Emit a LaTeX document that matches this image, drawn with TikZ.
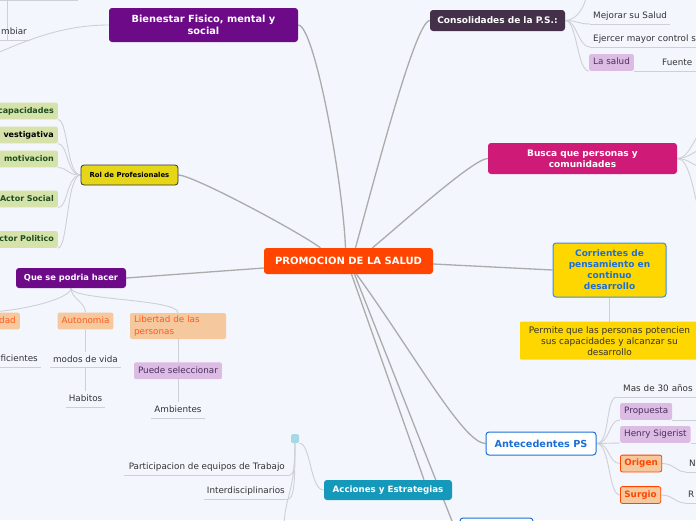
\documentclass[tikz,border=0pt]{standalone}
\usepackage{fontspec}
\setmainfont{DejaVu Sans}
\usetikzlibrary{positioning,backgrounds}

\definecolor{bgc}{HTML}{F3F6FD}
\definecolor{rootc}{HTML}{FF4500}
\definecolor{purp}{HTML}{6C0A88}
\definecolor{plum}{HTML}{45304A}
\definecolor{magen}{HTML}{D01A78}
\definecolor{goldc}{HTML}{FFD700}
\definecolor{skyb}{HTML}{3A8EE0}
\definecolor{blut}{HTML}{1D6FD8}
\definecolor{tealc}{HTML}{1599BA}
\definecolor{tealsq}{HTML}{A6D9E6}
\definecolor{lemon}{HTML}{E5D718}
\definecolor{sage}{HTML}{D5E3AA}
\definecolor{forest}{HTML}{1F4D1F}
\definecolor{peach}{HTML}{F6C89E}
\definecolor{tang}{HTML}{FF5A1E}
\definecolor{lilac}{HTML}{DDBCE4}
\definecolor{grape}{HTML}{4B2C5E}
\definecolor{inkc}{HTML}{333333}
\definecolor{trunkc}{HTML}{ABABAB}
\definecolor{twigc}{HTML}{CFD0D6}

\newcommand{\fsz}[2]{\fontsize{#1}{#2}\selectfont}

\begin{document}
\begin{tikzpicture}[
  x=1pt, y=1pt,
  font=\fsz{8.8}{11},
  box/.style={rounded corners=3pt, align=center, inner sep=2pt},
  hub/.style={box, text=white, font=\bfseries\fsz{9}{11}},
  rootbox/.style={hub, fill=rootc, minimum width=169pt, minimum height=26pt, font=\bfseries\fsz{10}{12}},
  tag/.style={rounded corners=2pt, inner xsep=4pt, inner ysep=4pt, text height=6.8pt, text depth=2pt},
  lilactag/.style={tag, fill=lilac, text=grape},
  peachtag/.style={tag, fill=peach, text=tang},
  sagetag/.style={tag, fill=sage, text=forest, font=\bfseries\fsz{8}{10}, text width=70pt, align=right},
  txt/.style={text=inkc, inner xsep=3pt, inner ysep=3.5pt, text height=6.8pt, text depth=2pt, uline},
  uline/.style={append after command={(\tikzlastnode.south west) edge[twig] (\tikzlastnode.south east)}},
  trunk/.style={draw=trunkc, line width=1.3pt},
  twig/.style={draw=twigc, line width=0.9pt}
]

\useasboundingbox (0,0) rectangle (696,-520);
\begin{scope}[on background layer]
  \fill[bgc] (0,0) rectangle (696,-520);
\end{scope}

% centro
\node[rootbox] (promo) at (348.5,-261) {PROMOCION DE LA SALUD};

% ramas principales
\node[hub, fill=purp, minimum width=189pt, minimum height=34pt, font=\bfseries\fsz{9.8}{12}] (bien) at (203.5,-25) {Bienestar Fisico, mental y\\social};
\node[hub, fill=plum, minimum width=135pt, minimum height=21pt] (cons) at (497.5,-20.5) {Consolidades de la P.S.:};
\node[hub, fill=magen, minimum width=189pt, minimum height=31pt] (busca) at (582.5,-158.5) {Busca que personas y\\comunidades};
\node[hub, fill=goldc, draw=skyb, line width=1pt, text=blut, minimum width=113pt, minimum height=54pt] (corr) at (609.5,-270) {Corrientes de\\pensamiento en\\continuo\\desarrollo};
\node[box, fill=goldc, text=inkc, rounded corners=1pt, minimum width=179pt, minimum height=38pt, font=\fsz{9}{11}, below=24pt of corr] (permite) {Permite que las personas potencien\\sus capacidades y alcanzar su\\desarrollo};
\node[hub, fill=white, draw=blut, line width=1pt, text=blut, minimum width=110pt, minimum height=23pt, font=\bfseries\fsz{9.7}{12}] (ante) at (541,-443.5) {Antecedentes PS};
\node[hub, fill=tealc, minimum width=128pt, minimum height=20pt, font=\bfseries\fsz{8.7}{11}] (acc) at (388,-490) {Acciones y Estrategias};
\node[hub, fill=white, draw=blut, line width=1pt, minimum width=73pt, minimum height=44pt] (abajo) at (496.5,-540) {};
\node[hub, fill=purp, minimum width=110pt, minimum height=20pt, font=\bfseries\fsz{8.3}{10}] (que) at (71,-278) {Que se podria hacer};
\node[box, fill=lemon, draw=black!80, line width=0.8pt, minimum width=97pt, minimum height=20pt, font=\bfseries\fsz{6.9}{9}] (rol) at (129.5,-175) {Rol de Profesionales};
\node[box, fill=tealsq, rounded corners=1.5pt, minimum width=8pt, minimum height=9pt, inner sep=0pt] (cuadro) at (295,-438.5) {};

% Bienestar
\node[txt, anchor=south east, text width=40pt, align=right] (mbiar) at (30,-40) {mbiar};
\coordinate (bienizq) at (-8,-55);
\coordinate (mbarriba) at (7,4);
\coordinate (tlA) at (-6,-0.6);
\coordinate (tlB) at (78,-0.6);

% Consolidades
\node[txt, anchor=south west] (mejorar) at (590,-24) {Mejorar su Salud};
\node[txt, anchor=south west, text width=110pt, align=left] (ejercer) at (590,-47) {Ejercer mayor control s};
\node[lilactag, anchor=south west] (lasalud) at (589,-71) {La salud};
\node[txt, anchor=south west, text width=40pt, align=left] (fuente) at (659,-71) {Fuente};
\coordinate (consarriba) at (587,6);

% Busca
\coordinate (buscaA) at (702,-131);
\coordinate (buscaB) at (702,-150);
\coordinate (buscaC) at (702,-167);
\coordinate (buscaD) at (697,-203);

% Rol de Profesionales
\node[sagetag, anchor=east] (capac) at (58,-111) {capacidades};
\node[sagetag, anchor=east, text=black] (invest) at (58,-135) {vestigativa};
\node[sagetag, anchor=east] (motiv) at (58,-159) {motivacion};
\node[sagetag, anchor=east] (asocial) at (58,-199) {Actor Social};
\node[sagetag, anchor=east] (apolit) at (58,-239.5) {Actor Politico};

% Que se podria hacer
\node[peachtag, anchor=east, text width=60pt, align=right] (idad) at (20,-321) {idad};
\node[peachtag] (auto) at (85.5,-321) {Autonomia};
\node[fill=peach, text=tang, rounded corners=2pt, text width=88pt, align=left, inner xsep=4pt, inner ysep=2pt, minimum height=26pt, font=\fsz{8.8}{12}] (libertad) at (178,-326) {Libertad de las\\personas};
\node[txt, anchor=south east, text width=50pt, align=right] (fic) at (41,-367) {ficientes};
\node[txt, below=22pt of auto] (modos) {modos de vida};
\node[txt, below=23pt of modos] (habitos) {Habitos};
\node[lilactag, below=23pt of libertad] (puede) {Puede seleccionar};
\node[txt, below=23pt of puede] (ambientes) {Ambientes};

% Acciones y Estrategias
\node[txt, anchor=south east, inner xsep=5pt] (equipos) at (290,-475) {Participacion de equipos de Trabajo};
\node[txt, anchor=south east] (interd) at (288,-499) {Interdisciplinarios};
\coordinate (accabajo) at (284,-528);

% Antecedentes PS
\node[txt, anchor=south west, text width=80pt, align=left, inner xsep=6pt] (treinta) at (617,-397) {Mas de 30 años};
\node[lilactag, anchor=south west] (propuesta) at (620,-420) {Propuesta};
\node[lilactag, anchor=south west] (henry) at (620,-443) {Henry Sigerist};
\node[peachtag, draw=rootc, line width=0.8pt, text=rootc, font=\bfseries\fsz{8.8}{11}, anchor=west] (origen) at (620,-463.5) {Origen};
\node[peachtag, draw=rootc, line width=0.8pt, text=rootc, font=\bfseries\fsz{8.8}{11}, anchor=west] (surgio) at (620,-495) {Surgio};
\node[txt, anchor=south west, text width=20pt, align=left] (ene) at (686,-472) {N};
\node[txt, anchor=south west, text width=20pt, align=left] (erre) at (685,-503) {R};
\coordinate (propder) at (702,-420);
\coordinate (henryder) at (702,-443);

\begin{scope}[on background layer]
  % tronco
  \draw[trunk] (bien.east) .. controls +(16,0) and +(-3,70) .. ([xshift=-3pt]promo.north);
  \draw[trunk] (cons.west) .. controls +(-14,0) and +(22,80) .. ([xshift=7pt]promo.north);
  \draw[trunk] (busca.west) .. controls +(-14,0) and +(30,25) .. ([xshift=24pt]promo.north);
  \draw[trunk] (rol.east) .. controls +(14,0) and +(-25,18) .. ([xshift=-28pt]promo.north);
  \draw[trunk] (que.east) -- ([yshift=-7pt]promo.west);
  \draw[trunk] ([yshift=-3pt]promo.east) -- (corr.west);
  \draw[trunk] ([xshift=8pt]promo.south) .. controls +(58,-80) and +(-22,0) .. (ante.west);
  \draw[trunk] ([xshift=3pt]promo.south) -- ([xshift=36pt]acc.north);
  \draw[trunk] ([xshift=6pt]promo.south) -- (abajo.west);
  \draw[twig] (corr.south) -- (permite.north);

  % Bienestar
  \draw[twig] (bien.west) .. controls +(-50,0) and +(30,12) .. (bienizq);
  \draw[twig] (mbarriba) -- (mbarriba |- mbiar.south);
  \draw[twig] (tlA) -- (tlB);

  % Consolidades
  \draw[twig] (cons.east) .. controls +(12,0) and +(-2,-12) .. (consarriba);
  \draw[twig] (cons.east) .. controls +(12,0) and +(-12,0) .. (mejorar.south west);
  \draw[twig] (cons.east) .. controls +(12,0) and +(-12,0) .. (ejercer.south west);
  \draw[twig] (cons.east) .. controls +(12,0) and +(-12,0) .. (lasalud.south west);
  \draw[twig] (lasalud.south east) -- (fuente.south west);

  % Busca
  \draw[twig] (busca.east) .. controls +(12,0) and +(-8,-6) .. (buscaA);
  \draw[twig] (busca.east) .. controls +(12,0) and +(-8,0) .. (buscaB);
  \draw[twig] (busca.east) .. controls +(12,0) and +(-8,0) .. (buscaC);
  \draw[twig] (busca.east) .. controls +(12,0) and +(-4,12) .. (buscaD);

  % Rol
  \draw[twig] (rol.west) .. controls +(-14,0) and +(10,0) .. (capac.south east);
  \draw[twig] (rol.west) .. controls +(-14,0) and +(10,0) .. (invest.south east);
  \draw[twig] (rol.west) .. controls +(-14,0) and +(10,0) .. (motiv.south east);
  \draw[twig] (rol.west) .. controls +(-14,0) and +(10,0) .. (asocial.south east);
  \draw[twig] (rol.west) .. controls +(-14,0) and +(10,0) .. (apolit.south east);

  % Que se podria hacer
  \draw[twig] (que.south) .. controls +(0,-10) and +(40,2) .. (idad.north);
  \draw[twig] (que.south) .. controls +(0,-10) and +(0,10) .. (auto.north);
  \draw[twig] (que.south) .. controls +(0,-12) and +(0,14) .. (libertad.north);
  \draw[twig] (auto.south) -- (modos.north);
  \draw[twig] (modos.south) -- (habitos.north);
  \draw[twig] (libertad.south) -- (puede.north);
  \draw[twig] (puede.south) -- (ambientes.north);

  % Acciones
  \draw[twig] (acc.west) .. controls +(-14,0) and +(12,0) .. (cuadro.south east);
  \draw[twig] (cuadro.south) .. controls +(0,-22) and +(4,0) .. (equipos.south east);
  \draw[twig] (cuadro.south) .. controls +(0,-40) and +(6,0) .. (interd.south east);
  \draw[twig] (cuadro.south) .. controls +(0,-50) and +(0,30) .. (accabajo);

  % Antecedentes
  \draw[twig] (ante.east) .. controls +(14,0) and +(-12,0) .. (treinta.south west);
  \draw[twig] (ante.east) .. controls +(14,0) and +(-12,0) .. (propuesta.south west);
  \draw[twig] (ante.east) -- (henry.south west);
  \draw[twig] (ante.east) .. controls +(14,0) and +(-12,0) .. (origen.west);
  \draw[twig] (ante.east) .. controls +(14,0) and +(-12,0) .. (surgio.west);
  \draw[twig] (origen.east) .. controls +(12,0) and +(-10,0) .. (ene.south west);
  \draw[twig] (surgio.east) .. controls +(12,0) and +(-10,0) .. (erre.south west);
  \draw[twig] (propuesta.south east) -- (propder);
  \draw[twig] (henry.south east) -- (henryder);
\end{scope}

\end{tikzpicture}
\end{document}
